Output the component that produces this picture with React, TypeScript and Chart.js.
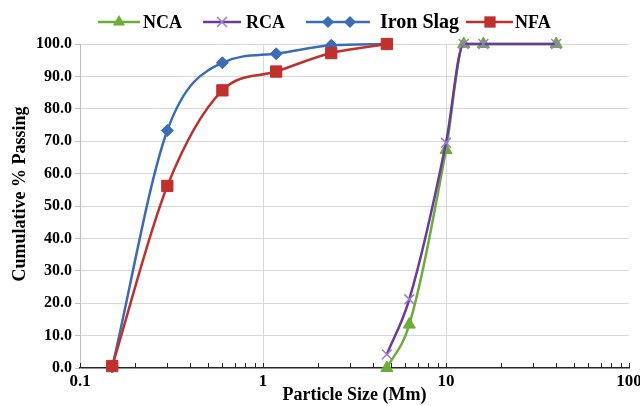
import React, { useEffect, useRef } from 'react';
import { Chart, registerables } from 'chart.js';

Chart.register(...registerables);

// Sieve sizes (mm) and cumulative % passing
const fineSieves = [0.15, 0.3, 0.6, 1.18, 2.36, 4.75];
const ironSlag = [0.3, 73.3, 94.2, 97.0, 99.6, 100];
const nfa = [0.6, 56.2, 85.7, 91.5, 97.2, 100];

const coarseSieves = [4.75, 6.3, 10, 12.5, 16, 40];
const nca = [0, 13.4, 67.3, 100, 100, 100];
const rca = [4.2, 21.2, 69.5, 100, 100, 100];

const seriesNames = ['NCA', 'RCA', 'Iron Slag', 'NFA'];

const xMajorValues = [0.1, 1, 10, 100];
const xMajorLabels = ['0.1', '1', '10', '100'];
const yTitle = 'Cumulative % Passing';
const xTitle = 'Particle Size (Mm)';

const GREEN = '#6aae35';
const PURPLE = '#6b3a9c';
const PURPLE_MARK = '#9a7dd0';
const BLUE = '#3a6cb8';
const RED = '#c0312e';

const SERIF = "'Times New Roman', 'Liberation Serif', serif";

// Minor log ticks: 1..9 within each decade, plus the final 100
const xTickValues: number[] = [];
xMajorValues.slice(0, -1).forEach((d) => {
  for (let m = 1; m <= 9; m++) xTickValues.push(+(m * d).toPrecision(3));
});
xTickValues.push(100);

function drawMarker(ctx: CanvasRenderingContext2D, style: string, x: number, y: number, r: number, fill: string, stroke: string) {
  ctx.save();
  ctx.fillStyle = fill;
  ctx.strokeStyle = stroke;
  ctx.lineWidth = 1.5;
  ctx.beginPath();
  if (style === 'triangle') {
    ctx.moveTo(x, y - r);
    ctx.lineTo(x + r * 0.866, y + r * 0.5);
    ctx.lineTo(x - r * 0.866, y + r * 0.5);
    ctx.closePath();
    ctx.fill();
  } else if (style === 'crossRot') {
    const s = r * 0.707;
    ctx.moveTo(x - s, y - s);
    ctx.lineTo(x + s, y + s);
    ctx.moveTo(x + s, y - s);
    ctx.lineTo(x - s, y + s);
    ctx.stroke();
  } else if (style === 'rectRot') {
    ctx.moveTo(x, y - r);
    ctx.lineTo(x + r, y);
    ctx.lineTo(x, y + r);
    ctx.lineTo(x - r, y);
    ctx.closePath();
    ctx.fill();
  } else {
    const s = r * 0.707;
    ctx.rect(x - s, y - s, 2 * s, 2 * s);
    ctx.fill();
  }
  ctx.restore();
}

// Key across the top: line sample with markers, then the series name
const keyPlugin = {
  id: 'seriesKey',
  afterDraw(chart: any) {
    const ctx: CanvasRenderingContext2D = chart.ctx;
    const y = 22;
    const slots = [
      { ds: 0, x0: 98, x1: 140, marks: [119], tx: 143, size: 18 },
      { ds: 1, x0: 203, x1: 241, marks: [222], tx: 246, size: 18 },
      { ds: 2, x0: 306, x1: 370, marks: [328, 350], tx: 380, size: 20 },
      { ds: 3, x0: 466, x1: 513, marks: [490], tx: 515, size: 18 },
    ];
    ctx.save();
    slots.forEach((s) => {
      const d = chart.data.datasets[s.ds];
      ctx.strokeStyle = d.borderColor;
      ctx.lineWidth = 2.5;
      ctx.beginPath();
      ctx.moveTo(s.x0, y);
      ctx.lineTo(s.x1, y);
      ctx.stroke();
      s.marks.forEach((mx) =>
        drawMarker(ctx, d.pointStyle, mx, y, d.pointRadius, d.pointBackgroundColor, d.pointBorderColor)
      );
      ctx.fillStyle = '#000';
      ctx.font = `bold ${s.size}px ${SERIF}`;
      ctx.textBaseline = 'middle';
      ctx.textAlign = 'left';
      ctx.fillText(seriesNames[s.ds], s.tx, y + 1);
    });
    ctx.restore();
  },
};

// Rotated value-axis title, set a little above the axis midpoint
const yTitlePlugin = {
  id: 'yAxisTitle',
  afterDraw(chart: any) {
    const ctx: CanvasRenderingContext2D = chart.ctx;
    const area = chart.chartArea;
    ctx.save();
    ctx.translate(20, (area.top + area.bottom) / 2 - 12);
    ctx.rotate(-Math.PI / 2);
    ctx.fillStyle = '#000';
    ctx.font = `bold 18px ${SERIF}`;
    ctx.textAlign = 'center';
    ctx.textBaseline = 'middle';
    ctx.fillText(yTitle, 0, 0);
    ctx.restore();
  },
};

// Short inside tick marks along the log axis
const innerTicksPlugin = {
  id: 'innerTicks',
  beforeDatasetsDraw(chart: any) {
    const xs = chart.scales.x;
    const area = chart.chartArea;
    const ctx: CanvasRenderingContext2D = chart.ctx;
    ctx.save();
    ctx.strokeStyle = '#262626';
    ctx.lineWidth = 1;
    xs.ticks.forEach((t: any) => {
      const px = Math.round(xs.getPixelForValue(t.value)) + 0.5;
      ctx.beginPath();
      ctx.moveTo(px, area.bottom);
      ctx.lineTo(px, area.bottom - 5);
      ctx.stroke();
    });
    ctx.restore();
  },
};

function pts(xs: number[], ys: number[]) {
  return xs.map((x, i) => ({ x, y: ys[i] }));
}

export default function App() {
  const ref = useRef<HTMLCanvasElement>(null);

  useEffect(() => {
    if (!ref.current) return;
    const chart = new Chart(ref.current, {
      type: 'line',
      data: {
        datasets: [
          {
            label: seriesNames[0],
            data: pts(coarseSieves, nca),
            borderColor: GREEN,
            borderWidth: 2.5,
            pointStyle: 'triangle',
            pointRadius: 7,
            pointBackgroundColor: GREEN,
            pointBorderColor: GREEN,
            pointBorderWidth: 1,
            cubicInterpolationMode: 'monotone',
            clip: false,
            order: 3,
          },
          {
            label: seriesNames[1],
            data: pts(coarseSieves, rca),
            borderColor: PURPLE,
            borderWidth: 2.5,
            pointStyle: 'crossRot',
            pointRadius: 7,
            pointBackgroundColor: PURPLE_MARK,
            pointBorderColor: PURPLE_MARK,
            pointBorderWidth: 1.5,
            cubicInterpolationMode: 'monotone',
            clip: false,
            order: 2,
          },
          {
            label: seriesNames[2],
            data: pts(fineSieves, ironSlag),
            borderColor: BLUE,
            borderWidth: 2.5,
            pointStyle: 'rectRot',
            pointRadius: 6,
            pointBackgroundColor: BLUE,
            pointBorderColor: BLUE,
            pointBorderWidth: 1,
            cubicInterpolationMode: 'monotone',
            clip: false,
            order: 1,
          },
          {
            label: seriesNames[3],
            data: pts(fineSieves, nfa),
            borderColor: RED,
            borderWidth: 2.5,
            pointStyle: 'rect',
            pointRadius: 8,
            pointBackgroundColor: RED,
            pointBorderColor: RED,
            pointBorderWidth: 1,
            cubicInterpolationMode: 'monotone',
            clip: false,
            order: 0,
          },
        ] as any,
      },
      options: {
        responsive: false,
        animation: false,
        layout: { padding: { top: 44, right: 11, left: 0, bottom: 0 } },
        plugins: { legend: { display: false }, tooltip: { enabled: false } },
        scales: {
          x: {
            type: 'logarithmic',
            min: 0.1,
            max: 100,
            afterBuildTicks: (scale: any) => {
              scale.ticks = xTickValues.map((v) => ({ value: v }));
            },
            afterFit: (scale: any) => {
              scale.height = 38;
              scale.paddingLeft = 0;
              scale.paddingRight = 0;
            },
            ticks: {
              autoSkip: false,
              maxRotation: 0,
              padding: 3,
              color: '#000',
              font: { family: SERIF, size: 17, weight: 'bold' },
              callback: (v: any) => {
                const i = xMajorValues.indexOf(Number(v));
                return i >= 0 ? xMajorLabels[i] : '';
              },
            },
            grid: {
              drawTicks: false,
              color: (c: any) =>
                c.tick && (c.tick.value === 1 || c.tick.value === 10) ? '#d9d9d9' : 'rgba(0,0,0,0)',
            },
            border: { color: '#262626', width: 1.5 },
            title: {
              display: true,
              text: xTitle,
              color: '#000',
              font: { family: SERIF, size: 18, weight: 'bold' },
              padding: { top: 0, bottom: 0 },
            },
          },
          y: {
            min: 0,
            max: 100,
            afterFit: (scale: any) => {
              scale.width = 80;
            },
            ticks: {
              stepSize: 10,
              padding: 3,
              color: '#000',
              font: { family: SERIF, size: 16, weight: 'bold' },
              callback: (v: any) => Number(v).toFixed(1),
            },
            grid: {
              tickLength: 5,
              tickColor: '#bfbfbf',
              color: (c: any) => (c.tick && c.tick.value === 0 ? 'rgba(0,0,0,0)' : '#d9d9d9'),
            },
            border: { color: '#bfbfbf', width: 1 },
          },
        },
      } as any,
      plugins: [innerTicksPlugin, keyPlugin, yTitlePlugin],
    });
    return () => chart.destroy();
  }, []);

  return (
    <div style={{ position: 'absolute', left: 0, top: 0, width: 640, height: 406, background: '#fff' }}>
      <canvas ref={ref} width={640} height={406} style={{ display: 'block' }} />
    </div>
  );
}
